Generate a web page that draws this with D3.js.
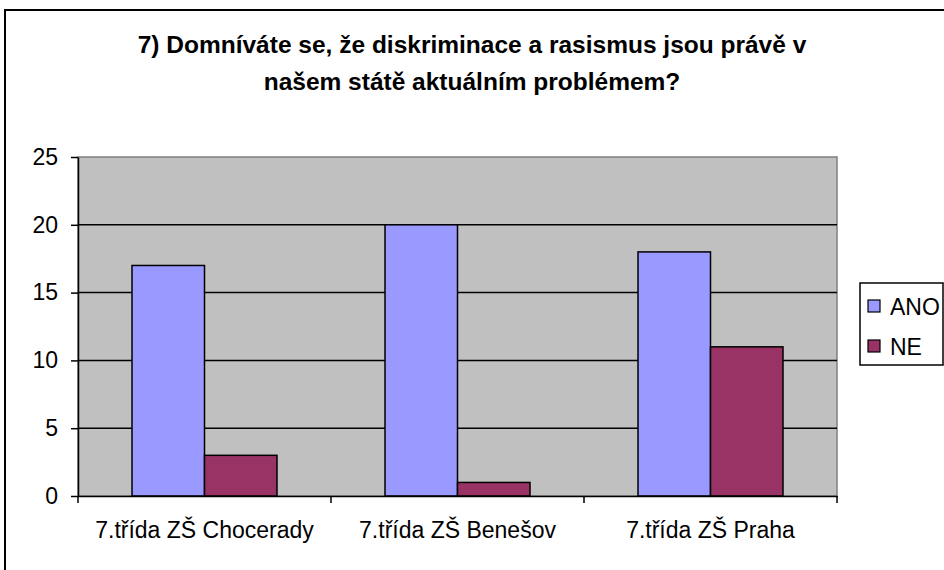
<!DOCTYPE html>
<html>
<head>
<meta charset="utf-8">
<script src="https://cdn.jsdelivr.net/npm/d3@7"></script>
<style>
  body { margin: 0; background: #fff; }
  svg { display: block; font-family: "Liberation Sans", Arial, sans-serif; }
</style>
</head>
<body>
<div class="svg-container"></div>
<script>
// data
var categories = ["7.třída ZŠ Chocerady", "7.třída ZŠ Benešov", "7.třída ZŠ Praha"];
var seriesNames = ["ANO", "NE"];
var anoValues = [17, 20, 18];
var neValues = [3, 1, 11];
var yTicks = [0, 5, 10, 15, 20, 25];
var titleLines = ["7) Domníváte se, že diskriminace a rasismus jsou právě v", "našem státě aktuálním problémem?"];
var colors = ["#9999FF", "#993366"];

var width = 944, height = 570;
var plotLeft = 78, plotRight = 837, plotTop = 157, plotBottom = 496;
var fontFam = "Liberation Sans, Arial, sans-serif";

var svg = d3.select(".svg-container").append("svg")
  .attr("width", width)
  .attr("height", height);

// outer frame
svg.append("rect")
  .attr("x", 5).attr("y", 10)
  .attr("width", width + 10).attr("height", height + 10)
  .attr("fill", "#fff")
  .attr("stroke", "#000")
  .attr("stroke-width", 2);

// title
svg.append("g").selectAll("text")
  .data(titleLines)
  .enter().append("text")
  .attr("x", 472)
  .attr("y", function(d, i) { return 53 + i * 37; })
  .attr("text-anchor", "middle")
  .attr("font-size", 24.5)
  .attr("font-weight", "bold")
  .text(function(d) { return d; });

// scales
var x0 = d3.scaleBand().domain(categories).range([plotLeft, plotRight]).padding(0);
var x1 = d3.scaleBand().domain(seriesNames).range([0, x0.bandwidth()]).paddingInner(0).paddingOuter(0.745);
var y = d3.scaleLinear().domain([0, 25]).range([plotBottom, plotTop]);

// plot area
svg.append("rect")
  .attr("x", plotLeft).attr("y", plotTop)
  .attr("width", plotRight - plotLeft).attr("height", plotBottom - plotTop)
  .attr("fill", "#C0C0C0")
  .attr("stroke", "#808080")
  .attr("stroke-width", 1.5);

// gridlines
svg.append("g").selectAll("line")
  .data(yTicks.filter(function(d) { return d > 0 && d < 25; }))
  .enter().append("line")
  .attr("x1", plotLeft).attr("x2", plotRight)
  .attr("y1", function(d) { return y(d); })
  .attr("y2", function(d) { return y(d); })
  .attr("stroke", "#000")
  .attr("stroke-width", 1.5);

// bars
var rows = categories.map(function(c, i) {
  return { cat: c, vals: [anoValues[i], neValues[i]] };
});

var groups = svg.append("g").selectAll("g")
  .data(rows)
  .enter().append("g")
  .attr("transform", function(d) { return "translate(" + x0(d.cat) + ",0)"; });

groups.selectAll("rect")
  .data(function(d) { return d.vals.map(function(v, j) { return { name: seriesNames[j], value: v, j: j }; }); })
  .enter().append("rect")
  .attr("x", function(d) { return x1(d.name); })
  .attr("y", function(d) { return y(d.value); })
  .attr("width", x1.bandwidth())
  .attr("height", function(d) { return plotBottom - y(d.value); })
  .attr("fill", function(d) { return colors[d.j]; })
  .attr("stroke", "#000")
  .attr("stroke-width", 1.5);

// Y axis
var yAxis = svg.append("g")
  .attr("transform", "translate(" + plotLeft + ",0)")
  .call(d3.axisLeft(y).tickValues(yTicks).tickSize(7).tickPadding(13).tickSizeOuter(0));
yAxis.selectAll("text").attr("font-size", 23).attr("fill", "#000").attr("font-family", fontFam);
yAxis.selectAll("line, path").attr("stroke", "#000").attr("stroke-width", 1.5);

// X axis
var xAxis = svg.append("g")
  .attr("transform", "translate(0," + plotBottom + ")")
  .call(d3.axisBottom(x0).tickSize(0).tickPadding(26).tickSizeOuter(0));
xAxis.selectAll("text").attr("font-size", 23).attr("fill", "#000").attr("font-family", fontFam);
xAxis.selectAll("line, path").attr("stroke", "#000").attr("stroke-width", 1.5);

// category boundary ticks
svg.append("g").selectAll("line")
  .data(categories.concat(["end"]))
  .enter().append("line")
  .attr("x1", function(d, i) { return i < categories.length ? x0(d) : plotRight; })
  .attr("x2", function(d, i) { return i < categories.length ? x0(d) : plotRight; })
  .attr("y1", plotBottom)
  .attr("y2", plotBottom + 7)
  .attr("stroke", "#000")
  .attr("stroke-width", 1.5);

// legend
var legend = svg.append("g").attr("transform", "translate(860,283)");
legend.append("rect")
  .attr("width", 83).attr("height", 82)
  .attr("fill", "#fff")
  .attr("stroke", "#000")
  .attr("stroke-width", 1.5);

var items = legend.selectAll("g.item")
  .data(seriesNames)
  .enter().append("g")
  .attr("class", "item")
  .attr("transform", function(d, i) { return "translate(0," + (17 + i * 40) + ")"; });

items.append("rect")
  .attr("x", 8).attr("y", 0)
  .attr("width", 12).attr("height", 12)
  .attr("fill", function(d, i) { return colors[i]; })
  .attr("stroke", "#000")
  .attr("stroke-width", 1.2);

items.append("text")
  .attr("x", 30).attr("y", 15)
  .attr("font-size", 23)
  .text(function(d) { return d; });
</script>
</body>
</html>
